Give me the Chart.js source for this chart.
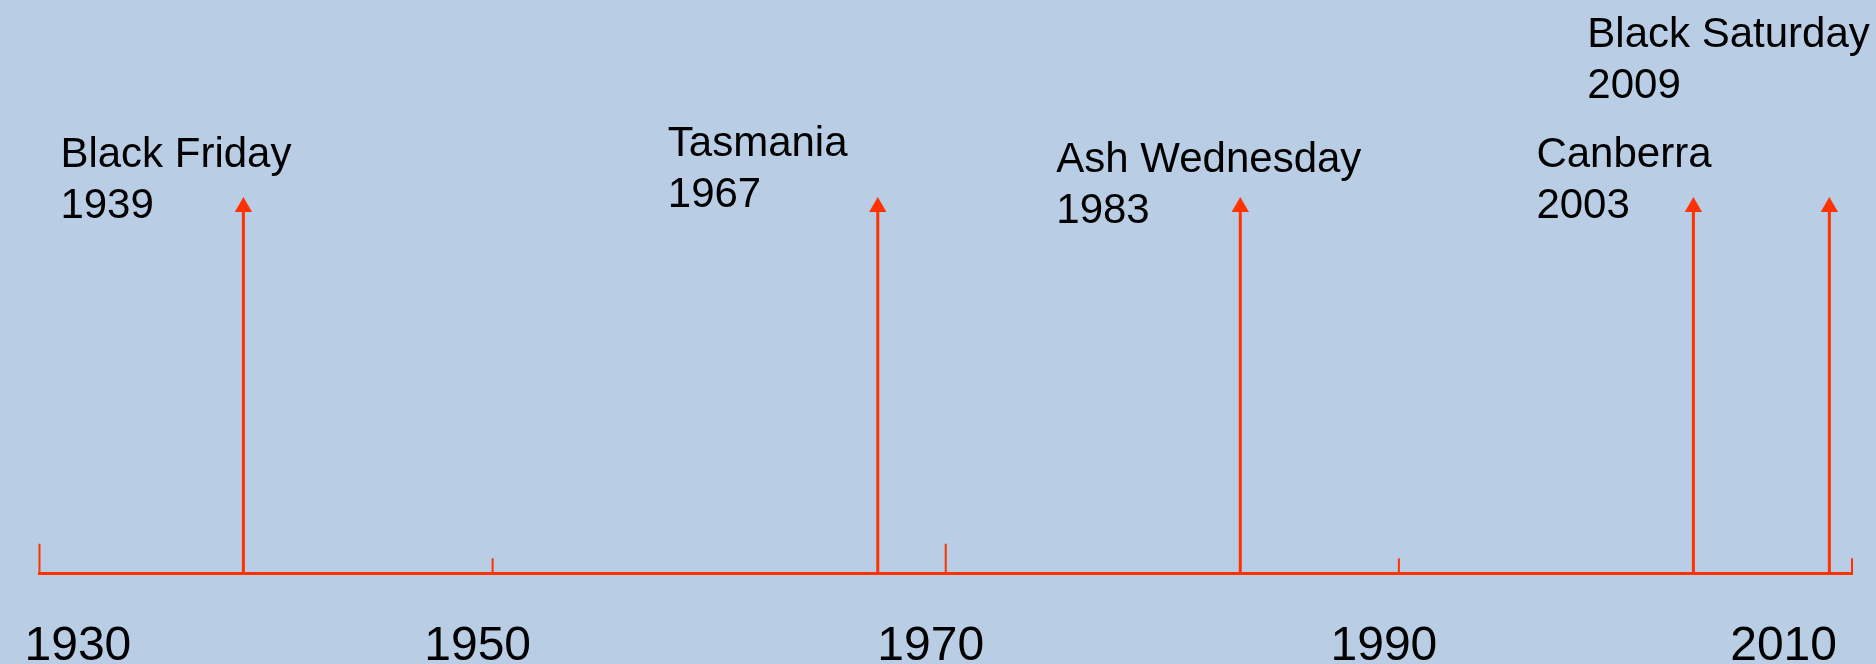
<!DOCTYPE html>
<html>
<head>
<meta charset="utf-8">
<script src="https://cdn.jsdelivr.net/npm/chart.js@4.4.1/dist/chart.umd.min.js"></script>
<style>
  html, body { margin: 0; padding: 0; background: #b9cde5; }
  #wrap { width: 1876px; height: 664px; position: relative; }
</style>
</head>
<body>
<div id="wrap"><canvas id="timeline"></canvas></div>
<script>
/* Bushfire timeline, drawn as a line chart on a linear year axis */

const EVENT_NAMES = ['Black Friday', 'Tasmania', 'Ash Wednesday', 'Canberra', 'Black Saturday'];
const EVENT_YEARS = [1939, 1967, 1983, 2003, 2009];
const TICK_YEARS  = [1930, 1950, 1970, 1990, 2010];
const AXIS_MIN = 1930;
const AXIS_MAX = 2010;

const RED  = '#ff3300';
const FONT = '"Liberation Sans", Arial, Helvetica, sans-serif';

// tick mark heights as a share of the arrow height (long / short)
const MARK_HEIGHTS = [0.08, 0.04, 0.08, 0.04, 0.04];
// label placement relative to the arrow tip: [dx, dy of first baseline]
const LABEL_OFFSETS = [[-183, -40], [-210, -51], [-184, -35], [-157, -40], [-242, -160]];
const LABEL_LINE = 51;

/* ── datasets ── */
const arrowSets = EVENT_YEARS.map(year => ({
  data: [{ x: year, y: 0 }, { x: year, y: 1 }],
  borderColor: RED,
  borderWidth: 3,
  pointStyle: 'triangle',
  pointRadius: [0, 10],
  pointBackgroundColor: RED,
  pointBorderWidth: 0,
  clip: false,
}));

const markSets = TICK_YEARS.map((year, i) => ({
  data: [{ x: year, y: 0 }, { x: year, y: MARK_HEIGHTS[i] }],
  borderColor: RED,
  borderWidth: 2,
  pointRadius: 0,
  clip: false,
}));

/* ── event names + years above the arrows ── */
const eventLabels = {
  id: 'eventLabels',
  afterDatasetsDraw(chart) {
    const { ctx, scales: { x, y } } = chart;
    const tip = y.getPixelForValue(1);
    ctx.save();
    ctx.font = `42px ${FONT}`;
    ctx.fillStyle = '#000';
    ctx.textBaseline = 'alphabetic';
    EVENT_YEARS.forEach((year, i) => {
      const [dx, dy] = LABEL_OFFSETS[i];
      const px = x.getPixelForValue(year) + dx;
      ctx.fillText(EVENT_NAMES[i], px, tip + dy);
      ctx.fillText(String(year), px, tip + dy + LABEL_LINE);
    });
    ctx.restore();
  },
};

new Chart(document.getElementById('timeline'), {
  type: 'line',
  data: { datasets: [...markSets, ...arrowSets] },
  plugins: [eventLabels],
  options: {
    responsive: true,
    maintainAspectRatio: false,
    animation: false,
    events: [],
    layout: {
      autoPadding: false,
      padding: { left: 39.5, right: 24, top: 207, bottom: 0 },
    },
    plugins: {
      legend: { display: false },
      tooltip: { enabled: false },
    },
    scales: {
      x: {
        type: 'linear',
        min: AXIS_MIN,
        max: AXIS_MAX,
        afterBuildTicks: s => { s.ticks = TICK_YEARS.map(v => ({ value: v })); },
        afterFit: s => { s.height = 91; },
        grid: { display: false, drawTicks: false },
        border: { display: true, color: RED, width: 3 },
        ticks: {
          color: '#000',
          font: { family: FONT, size: 48, lineHeight: 2.1 },
          padding: 23,
          align: 'inner',
          labelOffset: -15,
          maxRotation: 0,
          autoSkip: false,
          callback: v => String(v),
        },
      },
      y: { display: false, min: 0, max: 1 },
    },
  },
});
</script>
</body>
</html>
